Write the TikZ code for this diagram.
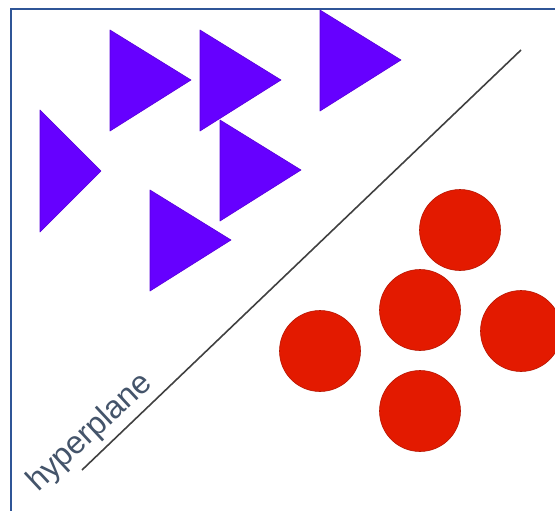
\documentclass[tikz,border=0pt]{standalone}
\usepackage{fontspec}
\setmainfont{Liberation Sans}
\definecolor{frameblue}{HTML}{2F5597}
\definecolor{tripurple}{HTML}{6600FF}
\definecolor{dotred}{HTML}{E31A00}
\definecolor{labelgray}{HTML}{44546A}
\begin{document}
\begin{tikzpicture}[x=1pt,y=-1pt,
    tri/.style={fill=tripurple,draw=tripurple!85!black,line width=0.6pt,line join=round},
    dot/.style={fill=dotred,draw=dotred!80!black,line width=0.6pt}]
    \useasboundingbox (0,0) rectangle (555,511);
    \clip (0,0) rectangle (555,511);

% frame
\draw [frameblue,line width=2.6pt] (11,511)--(11,9)--(555,9);

% triangles
\draw [tri] (40,110)--(101,171)--(40,232)--cycle;
\foreach \tx/\ty in {110/30, 200/30, 320/10, 220/120, 150/190}
   \draw [tri] (\tx,\ty)--(\tx+81,\ty+50)--(\tx,\ty+101)--cycle;

% circles
\foreach \cx/\cy in {460/230, 420/310, 521/331, 320/351, 420/411}
   \draw [dot] (\cx,\cy) circle (40.5);

% hyperplane
\coordinate (hpA) at (82,470);
\coordinate (hpB) at (521,50);
\draw [black!75,line width=1.6pt] (hpA)--(hpB);
\node (hplabel) [anchor=base west,rotate=43,labelgray,font=\fontsize{32}{36}\selectfont,inner sep=0pt]
   at (38,493) {hyperplane};
\end{tikzpicture}
\end{document}
